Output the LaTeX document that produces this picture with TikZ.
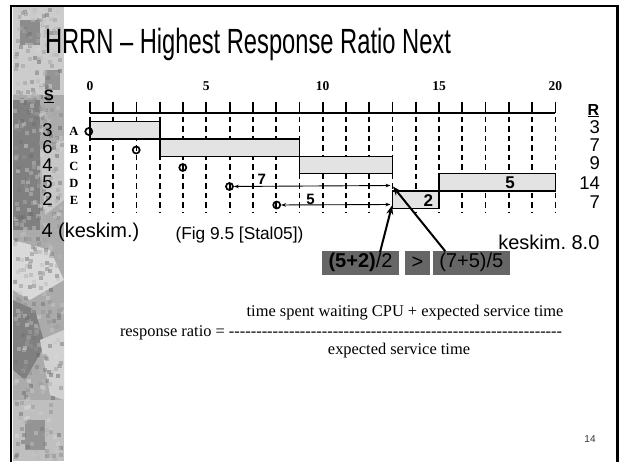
\documentclass[tikz,border=0pt]{standalone}
\usepackage{fontspec}
\setmainfont{Liberation Sans}
\newfontfamily\tms{Liberation Serif}
\usetikzlibrary{arrows.meta}
\ExplSyntaxOn
\NewDocumentCommand\myrep{mm}{\prg_replicate:nn{#1}{#2}}
\ExplSyntaxOff
\newcommand\fs[1]{\fontsize{#1}{#1}\selectfont}
\frenchspacing
\begin{document}
\begin{tikzpicture}[x=1pt,y=-1pt,
  txt/.style={inner sep=0pt, outer sep=0pt},
  axlab/.style={txt, font=\tms\bfseries\fs{13.5}},
  rowlab/.style={txt, font=\tms\bfseries\fs{12.5}},
  bignum/.style={txt, font=\fs{18.5}},
  barlab/.style={txt, font=\bfseries\fs{17}},
  arrlab/.style={txt, font=\bfseries\fs{15}},
  barbox/.style={draw, line width=1.4pt, fill=black!11},
  tickline/.style={line width=1.8pt},
  dashline/.style={line width=1.8pt, dash pattern=on 5.5pt off 4pt},
  arrcirc/.style={circle, draw, line width=1.7pt, minimum size=7pt, inner sep=0pt},
  thinarr/.style={line width=0.9pt, {Stealth[length=5pt,width=3.5pt]}-{Stealth[length=5pt,width=3.5pt]}},
  thickarr/.style={line width=2pt, -{Stealth[length=9pt,width=7pt]}},
  gbox/.style={fill=black!60, inner sep=0pt, minimum height=24.3pt, font=\fs{20}},
  formula/.style={txt, font=\tms\fs{16.4}},
  ]
\useasboundingbox (0,0) rectangle (621,461);
\clip (0,0) rectangle (621,461);
% textured side strip
\fill[black!33] (12.5,7) rectangle (64,461);
\fill[black!20] (13,7) rectangle (64,95);
\fill[black!45] (20,20) rectangle (40,45);
\fill[black!42] (45,70) rectangle (60,90);
\fill[black!50] (13,100) rectangle (40,230);
\fill[black!22] (40,150) -- (64,140) -- (64,200) -- (45,215) -- cycle;
\fill[black!15] (13,240) -- (50,250) -- (64,280) -- (30,300) -- (13,290) -- cycle;
\fill[black!50] (13,300) -- (35,310) -- (45,345) -- (25,380) -- (13,370) -- cycle;
\fill[black!18] (40,340) -- (64,330) -- (64,400) -- (50,395) -- cycle;
\fill[black!25] (13,400) rectangle (64,461);
\fill[black!42] (25,420) rectangle (45,450);
\pgfmathsetseed{11}
\foreach \i in {1,...,500}{
  \pgfmathsetmacro\xx{13+rnd*47}
  \pgfmathsetmacro\yy{7+rnd*450}
  \pgfmathsetmacro\gg{int(15+rnd*45)}
  \fill[black!\gg, opacity=0.5] (\xx,\yy) rectangle ++(4,4);
}
% frame
\draw[line width=2.5pt] (11,490) -- (11,6) -- (617.5,6) -- (617.5,490);
% title
\node[txt, anchor=base west] (title) at (45,53) {\resizebox{406pt}{\height}{\fs{35}HRRN – Highest Response Ratio Next}};
% axis
\draw[tickline] (90,112.7) -- ({90+23.27*20},112.7);
\foreach \t in {0,...,20}{
  \draw[tickline] ({90+23.27*\t},101.7) -- ({90+23.27*\t},112.7);
  \draw[dashline] ({90+23.27*\t},116.5) -- ({90+23.27*\t},212);
}
\foreach \t in {0,5,10,15,20}{
  \node[axlab] (ax\t) at ({90+23.27*\t},86.2) {\t};
}
% bars
\draw[barbox] ({90+23.27*0},121.7) rectangle ({90+23.27*3},139);
\draw[barbox] ({90+23.27*3},139) rectangle ({90+23.27*9},156.7);
\draw[barbox] ({90+23.27*9},156.7) rectangle ({90+23.27*13},173.3);
\draw[barbox] ({90+23.27*15},173.3) rectangle ({90+23.27*20},191);
\draw[barbox] ({90+23.27*13},191) rectangle ({90+23.27*15},208.5);
% row labels
\node[rowlab] (rA) at (74,131.5) {A};
\node[rowlab] (rB) at (74,149) {B};
\node[rowlab] (rC) at (74,166) {C};
\node[rowlab] (rD) at (74,183.3) {D};
\node[rowlab] (rE) at (74,200.8) {E};
% S column
\node[txt, font=\bfseries\fs{15}, anchor=base] (S) at (49,100.5) {\underline{S}};
\node[bignum] (s1) at (47.5,130) {3};
\node[bignum] (s2) at (47.5,147.5) {6};
\node[bignum] (s3) at (47.5,165) {4};
\node[bignum] (s4) at (47.5,182) {5};
\node[bignum] (s5) at (47.5,199) {2};
% R column
\node[txt, font=\bfseries\fs{16}, anchor=base] (R) at (593.5,115) {\underline{R}};
\node[bignum, anchor=east] (r1) at (600,126.7) {3};
\node[bignum, anchor=east] (r2) at (600,145) {7};
\node[bignum, anchor=east] (r3) at (600,163.5) {9};
\node[bignum, anchor=east] (r4) at (600,183) {14};
\node[bignum, anchor=east] (r5) at (600,202.5) {7};
% arrival circles
\node[arrcirc] (cA) at (88.8,131.5) {};
\node[arrcirc] (cB) at (136.2,150) {};
\node[arrcirc] (cC) at (182.8,167.5) {};
\node[arrcirc] (cD) at (229.5,186.5) {};
\node[arrcirc] (cE) at (276.7,205) {};
\coordinate (eD) at (390.5,185.5);
\coordinate (eE) at (390.5,204.5);
\draw[thinarr] (cD) -- (eD);
\draw[thinarr] (cE) -- (eE);
\node[arrlab] (l7) at (261.7,179.5) {7};
\node[arrlab] (l5a) at (310.5,199.5) {5};
\node[barlab] (l5b) at (510,182.3) {5};
\node[barlab] (l2) at (428.3,200.3) {2};
% texts
\node[txt, font=\fs{20}, anchor=west] (avgS) at (41.5,232) {4 (keskim.)};
\node[txt, font=\fs{17.3}, anchor=west] (fig) at (175.5,235.5) {(Fig 9.5 [Stal05])};
\node[txt, font=\fs{20}, anchor=west] (avgR) at (498.3,242) {keskim. 8.0};
% comparison boxes
\node[gbox, minimum width=77.6pt] (b1) at (360.5,262.8) {\textbf{(5+2)}/2};
\node[gbox, minimum width=25pt] (b2) at (417.5,262.8) {>};
\node[gbox, minimum width=77.3pt] (b3) at (471.3,262.8) {(7+5)/5};
\coordinate (t1) at (392,205.5);
\coordinate (t2) at (393,186.5);
\draw[thickarr] ([xshift=19.5pt,yshift=10.5pt]b1.center) -- (t1);
\draw[thickarr] ([xshift=-26pt,yshift=11.5pt]b3.center) -- (t2);
% formula
\node[formula, anchor=base west] (lhs) at (120,336) {response ratio = \myrep{61}{-{}}};
\node[formula, anchor=base] (num) at (405,316) {time spent waiting CPU + expected service time};
\node[formula, anchor=base] (den) at (399,354) {expected service time};
% page number
\node[txt, font=\fs{10}, text=black!80] (pg) at (590,439.5) {14};
\end{tikzpicture}
\end{document}
